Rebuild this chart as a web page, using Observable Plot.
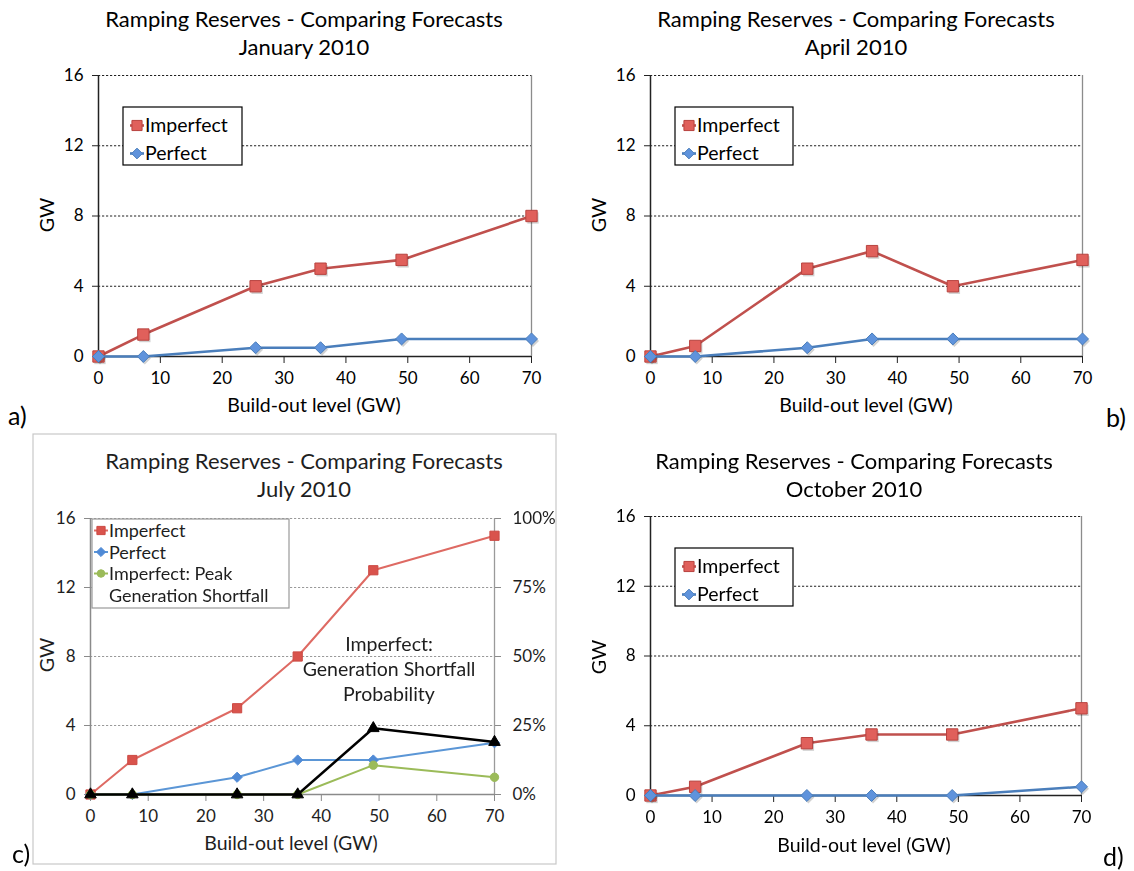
<!DOCTYPE html>
<html>
<head>
<meta charset="utf-8">
<script src="https://cdn.jsdelivr.net/npm/d3@7"></script>
<script src="https://cdn.jsdelivr.net/npm/@observablehq/plot@0.6"></script>
<style>
  html, body { margin: 0; padding: 0; background: #fff; }
  #page { position: relative; width: 1134px; height: 871px; overflow: hidden; font-family: Lato, "Open Sans", sans-serif; }
  .panel { position: absolute; }
</style>
</head>
<body>
<div id="page"></div>
<script>
// Wind/solar build-out levels (GW) at which ramping reserves were evaluated
const buildOut = [0, 7.25, 25.4, 35.9, 49, 70];

// Ramping reserves (GW) by forecast type, per month
const janImperfect = [0, 1.25, 4, 5, 5.5, 8];
const janPerfect   = [0, 0, 0.5, 0.5, 1, 1];
const aprImperfect = [0, 0.6, 5, 6, 4, 5.5];
const aprPerfect   = [0, 0, 0.5, 1, 1, 1];
const julImperfect = [0, 2, 5, 8, 13, 15];
const julPerfect   = [0, 0, 1, 2, 2, 3];
const julPeakShortfall = [0, 0, 0, 0, 1.7, 1];      // GW
const julShortfallProb = [0, 0, 0, 0, 24, 19];      // percent (right axis)
const octImperfect = [0, 0.5, 3, 3.5, 3.5, 5];
const octPerfect   = [0, 0, 0, 0, 0, 0.5];

// Tick labels
const gwTicks = [0, 4, 8, 12, 16];
const buildTicks = [0, 10, 20, 30, 40, 50, 60, 70];
const pctTicks = [0, 25, 50, 75, 100];

const FONT = 'Lato, "Open Sans", sans-serif';
const GW_MAX = 16;
const TITLE_SIZE = 22;
const LABEL_SIZE = 19.5;
const TICK_SIZE = 17;

const rows = (ys) => buildOut.map((x, i) => ({x, y: ys[i]}));
const pctRows = (ps) => buildOut.map((x, i) => ({x, y: ps[i] / 100 * GW_MAX}));

const page = document.getElementById("page");

function text(g, x, y, str, o = {}) {
  const t = g.append("text")
    .attr("x", x).attr("y", y)
    .attr("font-family", FONT)
    .attr("font-size", o.size || LABEL_SIZE)
    .attr("fill", o.fill || "#000")
    .attr("text-anchor", o.anchor || "start")
    .text(str);
  if (o.rotate) t.attr("transform", `rotate(${o.rotate},${x},${y})`);
  return t;
}

function drawPanel(cfg) {
  const th = cfg.theme;
  const marks = [
    Plot.ruleY(gwTicks.filter(v => v > 0), {stroke: th.grid, strokeDasharray: "2.2,1.8", strokeWidth: 1.1}),
    Plot.ruleX([70], {stroke: th.frame, strokeWidth: 1.3}),
    Plot.axisY({ticks: gwTicks, tickSize: 6, tickPadding: 9, fontSize: TICK_SIZE, label: null, stroke: th.axis, fill: th.text}),
    Plot.axisX({ticks: buildTicks, tickSize: 7, tickPadding: 8, fontSize: TICK_SIZE, label: null, stroke: th.axis, fill: th.text}),
    Plot.ruleX([0], {stroke: th.axis, strokeWidth: 1.5}),
    Plot.ruleY([0], {stroke: th.axis, strokeWidth: 1.5})
  ];
  if (cfg.rightAxis) {
    marks.push(Plot.axisY({anchor: "right", ticks: pctTicks.map(p => p / 100 * GW_MAX),
      tickFormat: v => `${Math.round(v / GW_MAX * 100)}%`, tickSize: 6, tickPadding: 12,
      fontSize: TICK_SIZE, label: null, stroke: th.axis, fill: th.text}));
  }
  for (const s of cfg.series) {
    marks.push(Plot.line(s.data, {x: "x", y: "y", stroke: s.line, strokeWidth: s.width}));
    if (s.shadow) {
      marks.push(Plot.dot(s.data, {x: "x", y: "y", symbol: s.symbol, r: s.r, fill: "#000", fillOpacity: 0.18, dx: 1.5, dy: 2}));
    }
    marks.push(Plot.dot(s.data, {x: "x", y: "y", symbol: s.symbol, r: s.r, fill: s.fill, stroke: s.stroke, strokeWidth: 1}));
  }

  const svg = Plot.plot({
    width: cfg.width, height: cfg.height,
    marginTop: cfg.margin[0], marginRight: cfg.margin[1], marginBottom: cfg.margin[2], marginLeft: cfg.margin[3],
    x: {domain: [0, 70]},
    y: {domain: [0, GW_MAX]},
    style: {fontFamily: FONT, fontSize: TICK_SIZE + "px", background: "transparent", overflow: "visible", color: "#000"},
    marks
  });

  const g = d3.select(svg);
  if (cfg.border) {
    g.insert("rect", ":first-child")
      .attr("x", cfg.border[0]).attr("y", cfg.border[1])
      .attr("width", cfg.border[2]).attr("height", cfg.border[3])
      .attr("fill", "#fff").attr("stroke", "#c8c8c8").attr("stroke-width", 1.2);
  }
  // Title
  text(g, cfg.titleX, cfg.titleY[0], "Ramping Reserves - Comparing Forecasts", {size: TITLE_SIZE, anchor: "middle", fill: th.text});
  text(g, cfg.titleX, cfg.titleY[1], cfg.month, {size: TITLE_SIZE, anchor: "middle", fill: th.text});
  // Axis titles
  text(g, cfg.gwPos[0], cfg.gwPos[1], "GW", {anchor: "middle", rotate: -90, fill: th.text});
  text(g, cfg.xLabelPos[0], cfg.xLabelPos[1], "Build-out level (GW)", {anchor: "middle", fill: th.text});
  // Legend
  const L = cfg.legend;
  const lg = g.append("g");
  lg.append("rect").attr("x", L.box[0]).attr("y", L.box[1]).attr("width", L.box[2]).attr("height", L.box[3])
    .attr("fill", "#fff").attr("stroke", L.boxStroke).attr("stroke-width", 1.2);
  L.items.forEach((it) => {
    const s = cfg.series[it.series];
    const cy = it.baseline - 6.5;
    lg.append("line").attr("x1", L.markerX - 7).attr("x2", L.markerX + 7).attr("y1", cy).attr("y2", cy)
      .attr("stroke", s.line).attr("stroke-width", s.width);
    lg.append("path").attr("transform", `translate(${L.markerX},${cy})`)
      .attr("d", d3.symbol(L.symbols[it.series], Math.PI * s.r * s.r * 0.8)())
      .attr("fill", s.fill).attr("stroke", s.stroke).attr("stroke-width", 1);
    it.lines.forEach((ln, j) => text(lg, L.textX, it.baseline + j * L.lineGap, ln, {size: L.size, fill: th.text}));
  });
  // Annotation
  if (cfg.note) {
    cfg.note.lines.forEach((ln, j) => text(g, cfg.note.x, cfg.note.y + j * 25, ln, {anchor: "middle", fill: th.text}));
  }
  // Panel tag
  text(g, cfg.tag[1], cfg.tag[2], cfg.tag[0], {size: 25, fill: "#000"});

  const wrap = document.createElement("div");
  wrap.className = "panel";
  wrap.style.left = cfg.left + "px";
  wrap.style.top = cfg.top + "px";
  if (cfg.blur) wrap.style.filter = `blur(${cfg.blur}px)`;
  wrap.appendChild(svg);
  page.appendChild(wrap);
}

const office = {grid: "#222", frame: "#8c8c8c", axis: "#222", text: "#000"};
const soft = {grid: "#9a9a9a", frame: "#9a9a9a", axis: "#8a8a8a", text: "#1e1e1e"};

const redS  = (d) => ({data: d, line: "#c0504d", width: 2.6, symbol: "square", r: 6.4, fill: "#e0605b", stroke: "#b8433f", shadow: true});
const blueS = (d) => ({data: d, line: "#4a7ebb", width: 2.6, symbol: "diamond2", r: 5.4, fill: "#5f93dc", stroke: "#4a7ebb", shadow: true});
const twoLegend = (box, markerX, textX, b0) => ({
  box, boxStroke: "#000", markerX, textX, size: LABEL_SIZE, lineGap: 22,
  symbols: [d3.symbolSquare, d3.symbolDiamond2],
  items: [{series: 0, baseline: b0, lines: ["Imperfect"]}, {series: 1, baseline: b0 + 28, lines: ["Perfect"]}]
});

// a) January
drawPanel({
  left: 0, top: 0, width: 560, height: 430, margin: [75, 29, 74, 98],
  theme: office, month: "January 2010", titleX: 304, titleY: [27, 55],
  gwPos: [54, 215], xLabelPos: [314, 412], tag: ["a)", 8, 425],
  series: [redS(rows(janImperfect)), blueS(rows(janPerfect))],
  legend: twoLegend([123, 107, 119, 58], 137, 145, 132)
});

// b) April
drawPanel({
  left: 560, top: 0, width: 574, height: 430, margin: [75, 52, 74, 90],
  theme: office, month: "April 2010", titleX: 296, titleY: [27, 55],
  gwPos: [46, 215], xLabelPos: [306, 412], tag: ["b)", 546, 427],
  series: [redS(rows(aprImperfect)), blueS(rows(aprPerfect))],
  legend: twoLegend([115, 107, 118, 58], 129, 137, 132)
});

// c) July, with generation shortfall on a secondary percentage axis
drawPanel({
  left: 0, top: 430, width: 560, height: 441, margin: [88, 66, 77, 90],
  theme: soft, month: "July 2010", titleX: 304, titleY: [39, 67],
  gwPos: [54, 225], xLabelPos: [291, 420], tag: ["c)", 12, 433],
  border: [33, 4, 523, 430], rightAxis: true, blur: 0.45,
  series: [
    {data: rows(julImperfect), line: "#de6a63", width: 2, symbol: "square", r: 5.2, fill: "#d9534c", stroke: "#cc4a44"},
    {data: rows(julPerfect), line: "#5b96d6", width: 2, symbol: "diamond2", r: 4.6, fill: "#4f8ad6", stroke: "#4f8ad6"},
    {data: rows(julPeakShortfall), line: "#9bbb59", width: 2, symbol: "circle", r: 4.2, fill: "#9bbb59", stroke: "#9bbb59"},
    {data: pctRows(julShortfallProb), line: "#000", width: 2.4, symbol: "triangle", r: 4.3, fill: "#000", stroke: "#000"}
  ],
  legend: {
    box: [92, 89, 197, 89], boxStroke: "#999", markerX: 101, textX: 109, size: 18, lineGap: 21.5,
    symbols: [d3.symbolSquare, d3.symbolDiamond2, d3.symbolCircle],
    items: [
      {series: 0, baseline: 107, lines: ["Imperfect"]},
      {series: 1, baseline: 128.5, lines: ["Perfect"]},
      {series: 2, baseline: 150, lines: ["Imperfect: Peak", "Generation Shortfall"]}
    ]
  },
  note: {x: 389, y: 221, lines: ["Imperfect:", "Generation Shortfall", "Probability"]}
});

// d) October
drawPanel({
  left: 560, top: 430, width: 574, height: 441, margin: [86, 53, 76, 90],
  theme: office, month: "October 2010", titleX: 294, titleY: [39, 67],
  gwPos: [46, 227], xLabelPos: [304, 422], tag: ["d)", 543, 436],
  series: [redS(rows(octImperfect)), blueS(rows(octPerfect))],
  legend: twoLegend([115, 118, 118, 58], 129, 137, 143)
});
</script>
</body>
</html>
